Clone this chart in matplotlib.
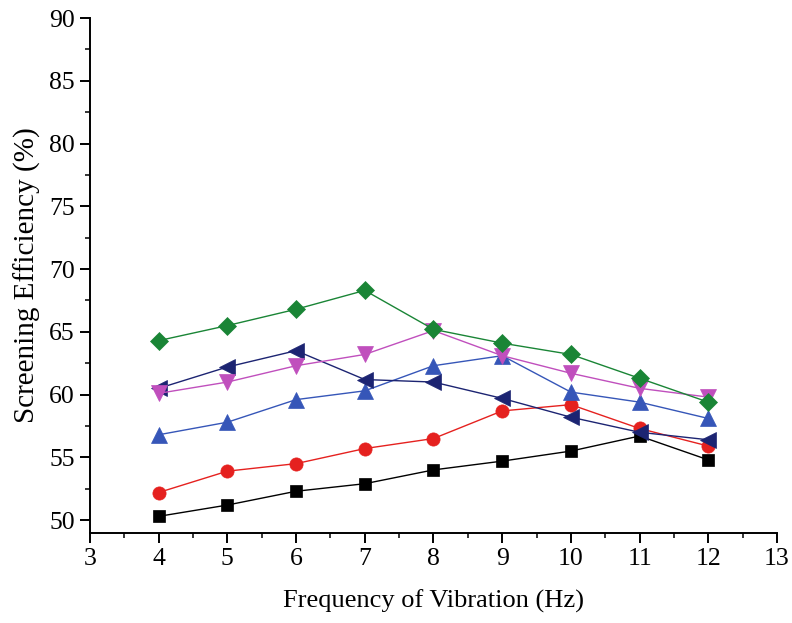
import matplotlib
matplotlib.use("Agg")
import matplotlib.pyplot as plt
from matplotlib.ticker import MultipleLocator

freq = [4, 5, 6, 7, 8, 9, 10, 11, 12]
s_square = [50.3, 51.2, 52.3, 52.9, 54.0, 54.7, 55.5, 56.7, 54.8]
s_circle = [52.2, 53.9, 54.5, 55.7, 56.5, 58.7, 59.2, 57.3, 55.9]
s_up = [56.8, 57.8, 59.6, 60.3, 62.3, 63.1, 60.2, 59.4, 58.1]
s_left = [60.5, 62.2, 63.5, 61.2, 61.0, 59.7, 58.2, 57.0, 56.4]
s_down = [60.1, 61.0, 62.3, 63.2, 65.1, 63.1, 61.7, 60.5, 59.8]
s_diamond = [64.3, 65.5, 66.8, 68.3, 65.2, 64.1, 63.2, 61.3, 59.4]

xticks = [3, 4, 5, 6, 7, 8, 9, 10, 11, 12, 13]
yticks = [50, 55, 60, 65, 70, 75, 80, 85, 90]

plt.rcParams['font.family'] = ['Liberation Serif', 'DejaVu Serif']

fig = plt.figure(figsize=(7.92, 6.23), dpi=100)
ax = fig.add_axes([0.1136, 0.145, 0.8674, 0.826])

series = [
    (s_square, 's', '#000000', 8.5),
    (s_circle, 'o', '#e5211f', 9.5),
    (s_up, '^', '#3656b8', 11.5),
    (s_left, '<', '#1c2472', 11.5),
    (s_down, 'v', '#c04fbd', 11.5),
    (s_diamond, 'D', '#1a8536', 9),
]
for ys, m, c, ms in series:
    ax.plot(freq, ys, marker=m, color=c, markersize=ms, linewidth=1.0,
            markeredgewidth=0.5, markeredgecolor=c)

ax.set_xlim(3, 13)
ax.set_ylim(49, 90)
ax.set_xticks(xticks)
ax.set_yticks(yticks)
ax.xaxis.set_minor_locator(MultipleLocator(0.5))
ax.yaxis.set_minor_locator(MultipleLocator(2.5))
ax.spines['top'].set_visible(False)
ax.spines['right'].set_visible(False)
for sp in ['left', 'bottom']:
    ax.spines[sp].set_linewidth(1.4)
ax.tick_params(axis='both', which='major', direction='out', length=7, width=1.4,
               labelsize=18.5, pad=4)
ax.tick_params(axis='both', which='minor', direction='out', length=3.5, width=1.1)
ax.set_xlabel('Frequency of Vibration (Hz)', fontsize=19, labelpad=14)
ax.set_ylabel('Screening Efficiency (%)', fontsize=21, labelpad=6)

fig.savefig('out.png', dpi=100)
